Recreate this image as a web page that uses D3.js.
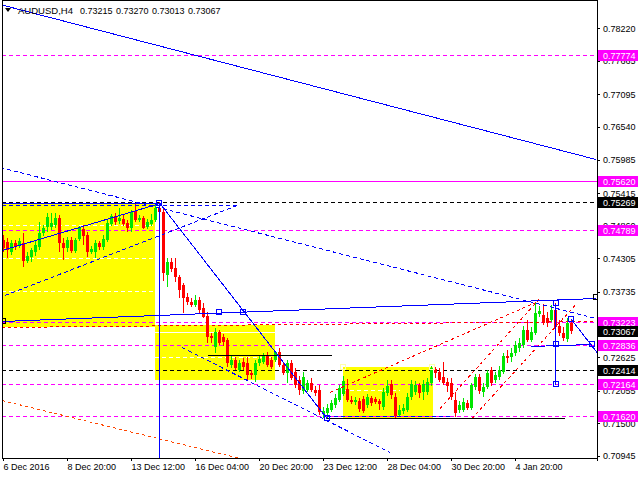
<!DOCTYPE html>
<html><head><meta charset="utf-8">
<script src="https://cdn.jsdelivr.net/npm/d3@7"></script>
<style>
body{margin:0;background:#fff}
svg{display:block}
text{font-family:"Liberation Sans",Arial,sans-serif;font-size:9px}
</style>
</head><body>
<svg id="chart" width="640" height="480"></svg>
<script>
// ---------- DATA ----------
const symbol = "AUDUSD,H4";
const lastQuote = [0.73215, 0.73270, 0.73013, 0.73067];

const opens = [0.74618,0.74584,0.74414,0.74567,0.74533,0.74567,0.74261,0.74329,0.74414,0.74499,
0.74737,0.74839,0.74839,0.74873,0.74992,0.74567,0.74482,0.74618,0.74431,0.74635,
0.74805,0.74703,0.74414,0.74414,0.74567,0.74499,0.74618,0.74890,0.75026,0.74941,
0.74975,0.74907,0.74822,0.75111,0.74958,0.74992,0.74839,0.74890,0.74958,0.75162,
0.75094,0.74023,0.74244,0.74142,0.73989,0.73853,0.73649,0.73564,0.73513,0.73598,
0.73462,0.73326,0.72986,0.72799,0.73054,0.72969,0.72918,0.72493,0.72578,0.72408,
0.72544,0.72527,0.72357,0.72323,0.72527,0.72544,0.72663,0.72578,0.72578,0.72714,
0.72493,0.72357,0.72527,0.72374,0.72238,0.72051,0.72068,0.72187,0.72068,0.72068,
0.71660,0.71677,0.71728,0.71813,0.71898,0.72000,0.72085,0.71898,0.71864,0.71881,
0.71915,0.71813,0.71932,0.71915,0.71881,0.71779,0.72017,0.72170,0.71949,0.71643,
0.71711,0.71728,0.71949,0.72034,0.72153,0.72034,0.72034,0.72187,0.72425,0.72374,
0.72289,0.72204,0.72187,0.71898,0.71728,0.71728,0.71847,0.71762,0.72119,0.72289,
0.72034,0.72119,0.72408,0.72238,0.72289,0.72374,0.72646,0.72629,0.72697,0.72782,
0.72833,0.73088,0.72918,0.73037,0.73360,0.73343,0.73292,0.73258,0.73428,0.73156,
0.73037,0.72935,0.73215];
const highs = [0.74703,0.74652,0.74618,0.74618,0.74652,0.74737,0.74414,0.74482,0.74618,0.74924,
0.74873,0.75077,0.75077,0.75077,0.75043,0.74652,0.74669,0.74669,0.74652,0.74856,
0.74873,0.74754,0.74516,0.74618,0.74601,0.74703,0.74958,0.75060,0.75077,0.75162,
0.75043,0.74958,0.75128,0.75247,0.75043,0.75026,0.74975,0.75060,0.75213,0.75269,
0.75179,0.74312,0.74312,0.74312,0.74023,0.73887,0.73717,0.73632,0.73683,0.73649,
0.73547,0.73394,0.73037,0.73122,0.73088,0.73020,0.72952,0.72663,0.72629,0.72578,
0.72612,0.72629,0.72408,0.72578,0.72663,0.72697,0.72714,0.72629,0.72731,0.72782,
0.72544,0.72578,0.72578,0.72442,0.72306,0.72374,0.72238,0.72272,0.72136,0.72153,
0.71779,0.71830,0.71898,0.72000,0.72153,0.72306,0.72255,0.71966,0.71949,0.71932,
0.71966,0.72000,0.71966,0.71949,0.71915,0.72102,0.72238,0.72238,0.72017,0.71813,
0.71830,0.72017,0.72238,0.72221,0.72187,0.72238,0.72272,0.72476,0.72459,0.72442,
0.72544,0.72272,0.72272,0.72034,0.71881,0.71932,0.71898,0.72187,0.72340,0.72340,
0.72187,0.72408,0.72459,0.72374,0.72476,0.72697,0.72748,0.72782,0.72901,0.72952,
0.73156,0.73258,0.73139,0.73547,0.73496,0.73530,0.73394,0.73513,0.73547,0.73258,
0.73139,0.73292,0.73270];
const lows = [0.74414,0.74312,0.74363,0.74448,0.74482,0.74159,0.74227,0.74244,0.74346,0.74448,
0.74686,0.74754,0.74788,0.74822,0.74414,0.74278,0.74414,0.74397,0.74397,0.74601,
0.74533,0.74329,0.74380,0.74312,0.74448,0.74448,0.74584,0.74856,0.74873,0.74890,
0.74856,0.74754,0.74754,0.74924,0.74924,0.74805,0.74805,0.74856,0.74924,0.75060,
0.73921,0.73819,0.74074,0.73904,0.73632,0.73377,0.73513,0.73479,0.73479,0.73377,
0.73292,0.72867,0.72867,0.72697,0.72833,0.72816,0.72459,0.72442,0.72408,0.72374,
0.72408,0.72238,0.72255,0.72204,0.72476,0.72510,0.72459,0.72425,0.72544,0.72459,
0.72323,0.72187,0.72238,0.72102,0.71983,0.72000,0.72034,0.72034,0.71966,0.71643,
0.71592,0.71575,0.71694,0.71762,0.71864,0.71966,0.71864,0.71830,0.71813,0.71694,
0.71677,0.71762,0.71796,0.71830,0.71728,0.71728,0.71966,0.71915,0.71592,0.71609,
0.71660,0.71694,0.71898,0.71983,0.71932,0.71898,0.71983,0.72136,0.72272,0.72204,
0.72153,0.72034,0.71898,0.71609,0.71677,0.71694,0.71728,0.71728,0.72068,0.72000,
0.71949,0.72085,0.72136,0.72187,0.72238,0.72340,0.72527,0.72544,0.72646,0.72714,
0.72782,0.72884,0.72884,0.73003,0.73309,0.73173,0.73139,0.73224,0.73088,0.72986,
0.72901,0.72884,0.73013];
const closes = [0.74482,0.74448,0.74567,0.74499,0.74601,0.74261,0.74346,0.74448,0.74533,0.74737,
0.74822,0.75009,0.74907,0.74992,0.74567,0.74482,0.74618,0.74431,0.74618,0.74822,
0.74686,0.74414,0.74465,0.74567,0.74499,0.74635,0.74907,0.75026,0.74924,0.74992,
0.74890,0.74822,0.75094,0.74958,0.74992,0.74822,0.74924,0.74958,0.75162,0.75094,
0.74057,0.74244,0.74125,0.73989,0.73768,0.73632,0.73564,0.73513,0.73598,0.73428,
0.73309,0.72969,0.72952,0.73054,0.72867,0.72884,0.72527,0.72578,0.72442,0.72527,
0.72459,0.72323,0.72323,0.72527,0.72595,0.72663,0.72493,0.72459,0.72714,0.72493,
0.72357,0.72527,0.72272,0.72153,0.72068,0.72289,0.72187,0.72068,0.72017,0.71694,
0.71711,0.71762,0.71847,0.71932,0.72102,0.72221,0.71898,0.71864,0.71898,0.71745,
0.71711,0.71949,0.71847,0.71864,0.71830,0.72034,0.72136,0.71983,0.71626,0.71728,
0.71762,0.71949,0.72170,0.72153,0.72017,0.72170,0.72204,0.72442,0.72357,0.72238,
0.72187,0.72136,0.71949,0.71677,0.71813,0.71864,0.71762,0.72153,0.72289,0.72051,
0.72119,0.72357,0.72187,0.72323,0.72408,0.72646,0.72612,0.72697,0.72833,0.72867,
0.73088,0.72918,0.73054,0.73377,0.73411,0.73224,0.73207,0.73428,0.73139,0.73037,
0.72952,0.73207,0.73067];

const timeLabels = ["6 Dec 2016","8 Dec 20:00","13 Dec 12:00","16 Dec 04:00","20 Dec 20:00","23 Dec 12:00","28 Dec 04:00","30 Dec 20:00","4 Jan 20:00"];
const timeLabelBars = [0,16,32,48,64,80,96,112,128];
const priceTicks = [0.78220,0.77665,0.77095,0.76540,0.75985,0.75415,0.74860,0.74305,0.73735,0.73165,0.72625,0.72055,0.71500,0.70945];

const magentaDashLevels = [0.77774,0.74789,0.73223,0.72836,0.72164,0.71620];
const magentaSolidLevels = [0.75620];
const blackDashLevels = [0.75269,0.72414];
const magentaTags = [0.77774,0.75620,0.74789,0.73223,0.72836,0.72164,0.71620];
const blackTags = [0.75269,0.73067,0.72414];

// drawn objects in (bar, price) units: [bar1, price1, bar2, price2]
const yellowBoxes = [[-0.25,0.75247,38,0.73139],[38,0.73173,68,0.72238],[85,0.72459,107.5,0.71575]];
const whiteDashSegs = [[-0.25,0.74873,38,0.74873],[-0.25,0.74312,38,0.74312],[-0.25,0.73751,38,0.73751],
  [38,0.72629,68,0.72629],[85,0.72068,99.25,0.72068]];
const whiteSolidSegs = [[38,0.73059,68,0.73059]];
const blueSolidSegs = [
  [-0.75,0.78641,148.25,0.75996],
  [-0.25,0.74448,39.25,0.75247],
  [-0.25,0.75247,39.25,0.75247],
  [39.25,0.75247,81,0.71592],
  [-0.25,0.73246,148.25,0.73632],
  [39.08,0.75247,39.08,0.70800],
  [138.2,0.73547,138.2,0.72170],
  [131.9,0.72816,147.2,0.72850],
  [142.1,0.73270,148.5,0.72714]];
const blueDotSegs = [
  [-0.75,0.75859,148.25,0.73292],
  [0.5,0.73683,59.25,0.75230],
  [-0.25,0.75213,58.25,0.75213],
  [44.75,0.72799,96.75,0.71014],
  [81,0.71626,111.75,0.71626]];
const orangeDotSegs = [[-0.25,0.71898,59.25,0.70912]];
const redDotSegs = [
  [-0.25,0.73139,148.25,0.73241],
  [81.75,0.72034,133.25,0.73564],
  [109.25,0.71762,134.25,0.73632],
  [117.25,0.71592,143,0.73513]];
const darkSegs = [[81,0.71592,140.5,0.71592],[51.25,0.72663,82.25,0.72663]];
const blueSquares = [[39.1,0.75247],[54.1,0.73394],[60,0.73394],[81,0.71592],[138.2,0.73547],[138.2,0.72850],
  [138.2,0.72170],[142.1,0.73270],[147.2,0.72850]];
const blackSquares = [[-0.1,0.73246],[148.25,0.73649]];
const paleSquares = [[85,0.72459],[107.25,0.72459]];

// ---------- DRAW ----------
const svg = d3.select("#chart");
const L = 2, R = 597, T = 1, B = 458;
const x = d3.scaleLinear().domain([0, 148.5]).range([3, 597]);
const y = d3.scaleLinear().domain([0.70945, 0.78220]).range([456, 28.3]);

svg.append("defs").append("clipPath").attr("id","plot")
  .append("rect").attr("x",L).attr("y",T).attr("width",R-L).attr("height",B-T);
const g = svg.append("g").attr("clip-path","url(#plot)");

g.selectAll("rect.box").data(yellowBoxes).join("rect")
  .attr("x",d=>x(d[0])).attr("y",d=>y(d[1]))
  .attr("width",d=>x(d[2])-x(d[0])).attr("height",d=>y(d[3])-y(d[1]))
  .attr("fill","#FFFF00");

function segs(data, color, dash) {
  g.append("g").selectAll("line").data(data).join("line")
    .attr("x1",d=>x(d[0])).attr("y1",d=>Math.round(y(d[1]))+0.5)
    .attr("x2",d=>x(d[2])).attr("y2",d=>Math.round(y(d[3]))+0.5)
    .attr("stroke",color).attr("stroke-width",1)
    .attr("stroke-dasharray",dash||null)
    .attr("shape-rendering","crispEdges");
}
segs(whiteDashSegs,"#FFFFFF","4,3");
segs(whiteSolidSegs,"#FFFFFF");

function hlines(levels, color, dash){
  g.append("g").selectAll("line").data(levels).join("line")
    .attr("x1",L).attr("x2",R)
    .attr("y1",d=>Math.round(y(d))+0.5).attr("y2",d=>Math.round(y(d))+0.5)
    .attr("stroke",color).attr("stroke-dasharray",dash||null)
    .attr("shape-rendering","crispEdges");
}
hlines(magentaDashLevels,"#FF00FF","4,3");
hlines(magentaSolidLevels,"#FF00FF");
hlines(blackDashLevels,"#000000","4,3");

const bars = d3.range(opens.length).map(i=>({i,o:opens[i],h:highs[i],l:lows[i],c:closes[i]}));
const cg = g.append("g").attr("shape-rendering","crispEdges");
const up = "#00E600", dn = "#FF0000";
cg.selectAll("line").data(bars).join("line")
  .attr("x1",d=>Math.round(x(d.i))+0.5).attr("x2",d=>Math.round(x(d.i))+0.5)
  .attr("y1",d=>Math.round(y(d.h))).attr("y2",d=>Math.round(y(d.l)))
  .attr("stroke",d=>d.c>=d.o?up:dn);
cg.selectAll("rect").data(bars).join("rect")
  .attr("x",d=>Math.round(x(d.i))-1).attr("width",3)
  .attr("y",d=>Math.round(y(Math.max(d.o,d.c))))
  .attr("height",d=>Math.max(1,Math.round(y(Math.min(d.o,d.c)))-Math.round(y(Math.max(d.o,d.c)))))
  .attr("fill",d=>d.c>=d.o?up:dn);

segs(redDotSegs,"#FF0000","3,3");
segs(orangeDotSegs,"#FF4500","3,3");
segs(blueDotSegs,"#0000FF","4,3");
segs(darkSegs,"#000000");
segs(blueSolidSegs,"#0000FF");

function squares(data,color){
  g.append("g").selectAll("rect").data(data).join("rect")
    .attr("x",d=>Math.round(x(d[0]))-2.5).attr("y",d=>Math.round(y(d[1]))-2.5)
    .attr("width",5).attr("height",5).attr("fill","none").attr("stroke",color)
    .attr("shape-rendering","crispEdges");
}
squares(paleSquares,"#FFFFAA");
squares(blueSquares,"#0000FF");
squares(blackSquares,"#000000");

svg.append("rect").attr("x",L+0.5).attr("y",T-0.5).attr("width",R-L-0.5).attr("height",B-T+0.5)
  .attr("fill","none").attr("stroke","#000").attr("shape-rendering","crispEdges");

const ay = svg.append("g").attr("transform",`translate(${R},0)`)
  .call(d3.axisRight(y).tickValues(priceTicks).tickFormat(d3.format(".5f")).tickSize(3));
const ax = svg.append("g").attr("transform",`translate(0,${B})`)
  .call(d3.axisBottom(x).tickValues(timeLabelBars).tickFormat((d,i)=>timeLabels[i]).tickSize(3));
[ay,ax].forEach(a=>{
  a.select(".domain").attr("stroke","#000").attr("shape-rendering","crispEdges");
  a.selectAll(".tick line").attr("stroke","#000").attr("shape-rendering","crispEdges");
  a.selectAll("text").attr("fill","#000").style("font-family",'"Liberation Sans",Arial,sans-serif').style("font-size","9px");
});
ax.selectAll("text").attr("text-anchor","start").attr("x",0);

function tags(levels, color){
  const tg = svg.append("g");
  tg.selectAll("rect").data(levels).join("rect")
    .attr("x",598).attr("y",d=>Math.round(y(d))-5).attr("width",40).attr("height",11)
    .attr("fill",color);
  tg.selectAll("text").data(levels).join("text")
    .attr("x",603).attr("y",d=>Math.round(y(d))+4)
    .attr("fill","#fff").text(d=>d3.format(".5f")(d));
}
tags(magentaTags,"#FF00FF");
tags(blackTags,"#000000");

// title
svg.append("path").attr("d","M5,8 L11,8 L8,12 Z").attr("fill","#000");
const title = svg.append("g").attr("fill","#000");
title.append("text").attr("x",18).attr("y",14).attr("textLength",55).attr("lengthAdjust","spacingAndGlyphs").text(symbol);
title.selectAll("text.q").data(lastQuote).join("text").attr("class","q")
  .attr("x",(d,i)=>80+i*36).attr("y",14).text(d=>d3.format(".5f")(d));
</script>
</body></html>
